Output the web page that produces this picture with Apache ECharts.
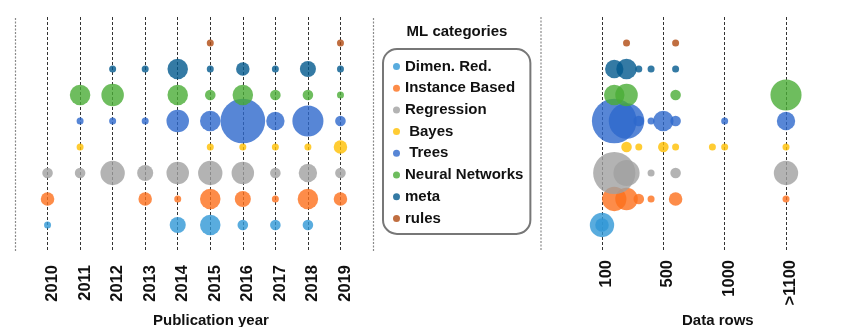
<!DOCTYPE html>
<html>
<head>
<meta charset="utf-8">
<script src="https://cdn.jsdelivr.net/npm/echarts@6/dist/echarts.min.js"></script>
<style>
html,body{margin:0;padding:0;background:#fff;}
#chart{width:842px;height:327px;}
</style>
</head>
<body>
<div id="chart"></div>
<script>
// ---- data ----
const categories = ['Dimen. Red.', 'Instance Based', 'Regression', ' Bayes', ' Trees', 'Neural Networks', 'meta', 'rules'];
const years = [2010, 2011, 2012, 2013, 2014, 2015, 2016, 2017, 2018, 2019];
const rowTicks = ['100', '500', '1000', '>1100'];

// paper counts per year (2010..2019)
const dimenByYear      = [1, 0, 0, 0, 4, 6, 2, 2, 2, 0];
const instanceByYear   = [3, 0, 0, 3, 1, 6, 4, 1, 6, 3];
const regressionByYear = [2, 2, 8, 4, 7, 8, 7, 2, 5, 2];
const bayesByYear      = [0, 1, 0, 0, 0, 1, 1, 1, 1, 3];
const treesByYear      = [0, 1, 1, 1, 7, 6, 22, 5, 12, 2];
const nnByYear         = [0, 6, 7, 0, 6, 2, 6, 2, 2, 1];
const metaByYear       = [0, 0, 1, 1, 6, 1, 3, 1, 4, 1];
const rulesByYear      = [0, 0, 0, 0, 0, 1, 0, 0, 0, 1];

// [data-rows position (100=0, 500=5, 1000=10, >1100=15), count]
const dimenRows      = [[0, 8], [0, 3]];
const instanceRows   = [[1, 8], [2, 7], [3, 2], [4, 1], [6, 3], [15, 1]];
const regressionRows = [[1, 20], [2, 9], [4, 1], [6, 2], [15, 8]];
const bayesRows      = [[2, 2], [3, 1], [5, 2], [6, 1], [9, 1], [10, 1], [15, 1]];
const treesRows      = [[1, 22], [2, 15], [3, 2], [4, 1], [5, 6], [6, 2], [10, 1], [15, 5]];
const nnRows         = [[1, 6], [2, 7], [6, 2], [15, 12]];
const metaRows       = [[1, 5], [2, 6], [3, 1], [4, 1], [6, 1]];
const rulesRows      = [[2, 1], [6, 1]];

const byYear = [dimenByYear, instanceByYear, regressionByYear, bayesByYear, treesByYear, nnByYear, metaByYear, rulesByYear];
const byRows = [dimenRows, instanceRows, regressionRows, bayesRows, treesRows, nnRows, metaRows, rulesRows];

// ---- style ----
const colors = ['#2f97d6', '#fd6f1c', '#a0a0a0', '#ffbf00', '#2d68cc', '#4aad36', '#01598d', '#b04a10'];
const FONT = '"Liberation Sans", Arial, Helvetica, sans-serif';
const NARROW = '"Liberation Sans Narrow", "Arial Narrow", "Liberation Sans", Arial, sans-serif';
const sizeFn = v => 7 * Math.pow(v[2], 0.6);

const series = [];
categories.forEach((name, i) => {
  series.push({
    name, type: 'scatter', xAxisIndex: 0, yAxisIndex: 0, clip: false,
    data: years.map((y, j) => byYear[i][j] > 0 ? [y, i, byYear[i][j]] : null).filter(Boolean),
    symbolSize: sizeFn,
    itemStyle: { color: colors[i], opacity: 0.8 },
    emphasis: { disabled: true }
  });
  series.push({
    name, type: 'scatter', xAxisIndex: 1, yAxisIndex: 1, clip: false,
    data: byRows[i].map(d => [d[0], i, d[1]]),
    symbolSize: sizeFn,
    itemStyle: { color: colors[i], opacity: 0.8 },
    emphasis: { disabled: true }
  });
});
// panel boundary lines of the year panel
series.push({
  type: 'scatter', xAxisIndex: 0, yAxisIndex: 0, data: [], silent: true,
  markLine: {
    silent: true, symbol: 'none', label: { show: false },
    lineStyle: { color: '#8a8a8a', type: [2, 1.5], width: 1.2 },
    data: [{ xAxis: years[0] - 1 }, { xAxis: years[years.length - 1] + 1 }]
  }
});

const chart = echarts.init(document.getElementById('chart'), null, { renderer: 'canvas' });
chart.setOption({
  animation: false,
  backgroundColor: '#fff',
  title: [
    { text: 'ML categories', left: 457, top: 24, textAlign: 'center', padding: 0,
      textStyle: { fontFamily: FONT, fontSize: 15, fontWeight: 'bold', color: '#111' } },
    { text: 'Publication year', left: 153, top: 313, padding: 0,
      textStyle: { fontFamily: FONT, fontSize: 15, fontWeight: 'bold', color: '#111' } },
    { text: 'Data rows', left: 682, top: 313, padding: 0,
      textStyle: { fontFamily: FONT, fontSize: 15, fontWeight: 'bold', color: '#111' } }
  ],
  legend: {
    orient: 'vertical', left: 383, top: 49,
    padding: [10, 7, 8, 10],
    itemGap: 6.7, itemWidth: 7, itemHeight: 7, icon: 'circle',
    borderColor: '#777', borderWidth: 2, borderRadius: 14,
    selectedMode: false,
    data: categories,
    textStyle: { fontFamily: FONT, fontSize: 15, fontWeight: 'bold', color: '#111', lineHeight: 15 }
  },
  grid: [
    { left: 15, top: 17, width: 358, height: 234 },
    { left: 602, top: 17, width: 184, height: 234 }
  ],
  xAxis: [
    {
      type: 'value', gridIndex: 0, min: 2009, max: 2020, interval: 1,
      axisLine: { show: false }, axisTick: { show: false },
      splitLine: { show: true, showMinLine: false, showMaxLine: false,
        lineStyle: { color: '#333', type: [3, 2], width: 1 } },
      axisLabel: {
        rotate: 90, margin: 14, fontFamily: NARROW, fontSize: 16.5, fontWeight: 'bold', color: '#111',
        verticalAlign: 'top', lineHeight: 10,
        formatter: v => years.indexOf(v) >= 0 ? String(v) : ''
      }
    },
    {
      type: 'value', gridIndex: 1, min: 0, max: 15, interval: 5,
      axisLine: { show: false }, axisTick: { show: false },
      splitLine: { show: true, lineStyle: { color: '#333', type: [3, 2], width: 1 } },
      axisLabel: {
        rotate: 90, margin: 9, fontFamily: NARROW, fontSize: 16.5, fontWeight: 'bold', color: '#111',
        verticalAlign: 'top', lineHeight: 9,
        formatter: v => rowTicks[Math.round(v / 5)] || ''
      }
    }
  ],
  yAxis: [
    { type: 'value', gridIndex: 0, min: -1, max: 8, interval: 1, show: false, splitLine: { show: false } },
    { type: 'value', gridIndex: 1, min: -1, max: 8, interval: 1, show: false, splitLine: { show: false } }
  ],
  graphic: [
    { type: 'line', silent: true, shape: { x1: 541, y1: 17, x2: 541, y2: 251 },
      style: { stroke: '#8a8a8a', lineWidth: 1.2, lineDash: [2, 1.5] } }
  ],
  series
});
</script>
</body>
</html>
